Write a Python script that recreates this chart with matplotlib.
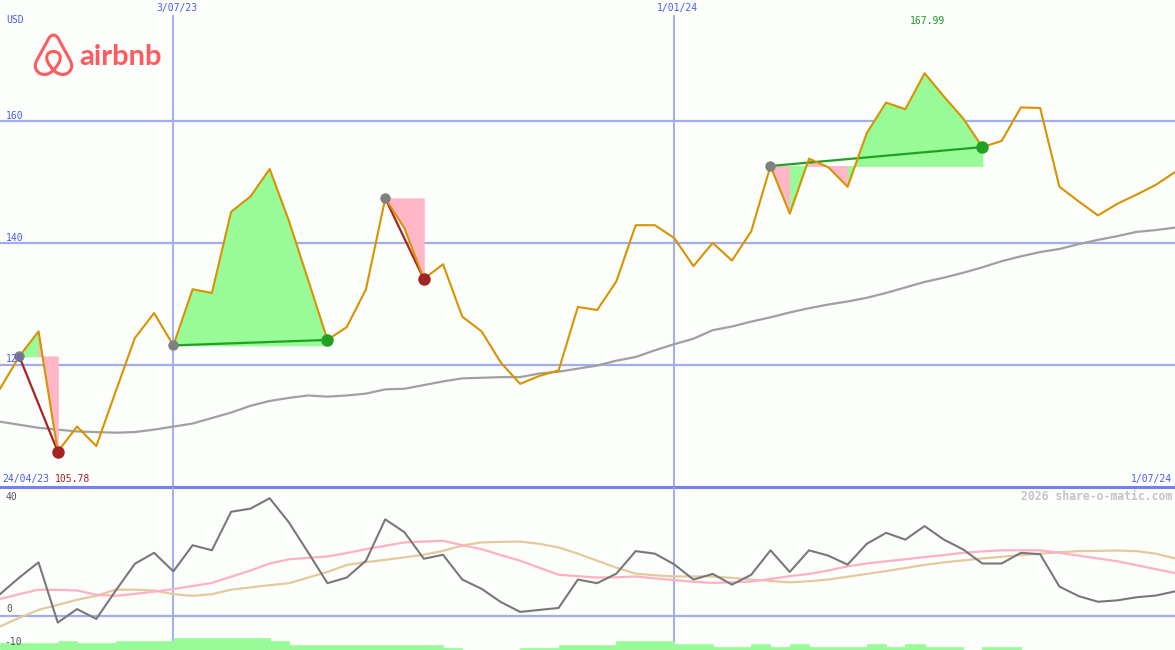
import matplotlib
matplotlib.use("Agg")
import matplotlib.pyplot as plt
from matplotlib.path import Path
from matplotlib.patches import PathPatch
import numpy as np
import pandas as pd

# weekly closes (USD)
dates = pd.date_range("2023-05-01", periods=62, freq="7D")
price = [116.1, 121.4, 125.5, 105.8, 109.9, 106.7, 115.6, 124.4, 128.5, 123.2,
         132.4, 131.8, 145.1, 147.6, 152.1, 143.6, 133.9, 124.1, 126.2, 132.4,
         147.3, 142.4, 134.1, 136.5, 127.9, 125.5, 120.4, 116.9, 118.2, 119.1,
         129.5, 129.0, 133.7, 142.9, 142.9, 140.8, 136.2, 140.0, 137.1, 141.9,
         152.6, 144.8, 153.8, 152.4, 149.2, 158.0, 163.0, 161.9, 167.8, 164.0,
         160.4, 155.7, 156.7, 162.2, 162.1, 149.2, 146.8, 144.5, 146.4, 147.9,
         149.5, 151.6]
ma = [110.7, 110.2, 109.7, 109.4, 109.1, 109.0, 108.9, 109.0, 109.4, 109.9,
      110.4, 111.3, 112.2, 113.3, 114.1, 114.6, 115.0, 114.8, 115.0, 115.3,
      116.0, 116.1, 116.7, 117.3, 117.8, 117.9, 118.0, 118.0, 118.6, 118.9,
      119.4, 119.9, 120.7, 121.3, 122.4, 123.4, 124.3, 125.7, 126.3, 127.1,
      127.8, 128.6, 129.3, 129.9, 130.4, 131.0, 131.8, 132.7, 133.6, 134.3,
      135.1, 136.0, 137.0, 137.8, 138.5, 139.0, 139.8, 140.5, 141.1, 141.8,
      142.1, 142.5]

# lower panel
osc = [7.6, 13.5, 18.9, -2.5, 2.3, -1.2, 8.8, 18.4, 22.3, 15.7,
       25.0, 23.2, 36.9, 38.0, 41.7, 33.1, 22.4, 11.5, 13.5, 19.5,
       34.2, 29.6, 20.2, 21.6, 12.8, 9.5, 4.8, 1.3, 2.0, 2.7,
       12.8, 11.5, 14.9, 22.9, 22.0, 18.2, 12.8, 14.8, 11.0, 14.5,
       23.2, 15.5, 23.2, 21.3, 18.1, 25.5, 29.4, 27.0, 31.8, 27.0,
       23.5, 18.5, 18.5, 22.3, 21.8, 10.3, 6.9, 4.9, 5.4, 6.5,
       7.1, 8.6]
osc_fast = [5.9, 7.6, 9.2, 9.1, 8.9, 7.4, 7.0, 7.7, 8.5, 9.4,
            10.5, 11.6, 13.8, 16.0, 18.5, 20.0, 20.5, 21.0, 22.2, 23.6,
            24.8, 26.0, 26.3, 26.6, 25.0, 23.6, 21.5, 19.5, 17.0, 14.5,
            14.0, 13.5, 13.6, 13.9, 13.2, 12.6, 12.0, 11.6, 11.8, 12.1,
            13.0, 14.0, 14.8, 16.0, 17.5, 18.5, 19.3, 20.0, 20.8, 21.5,
            22.3, 22.8, 23.2, 23.2, 23.2, 22.3, 21.3, 20.3, 19.3, 17.9,
            16.5, 15.1]
osc_slow = [-3.9, -0.8, 2.0, 3.8, 5.6, 7.0, 9.2, 9.2, 8.9, 7.6,
            7.0, 7.6, 9.2, 10.0, 10.8, 11.5, 13.5, 15.5, 18.0, 19.0,
            19.8, 20.7, 21.6, 23.0, 24.9, 26.0, 26.2, 26.3, 25.5, 24.2,
            22.0, 19.5, 17.0, 14.9, 14.3, 13.9, 13.9, 13.9, 13.4, 12.8,
            12.3, 11.8, 12.2, 12.8, 13.8, 14.8, 15.8, 16.9, 18.0, 18.9,
            19.6, 20.3, 20.9, 21.5, 22.0, 22.5, 22.9, 23.0, 23.1, 22.9,
            22.0, 20.3]
n = np.nan
bar_top = [-9.9, -9.9, -9.9, -8.9, -9.9, -9.9, -8.9, -8.9, -8.9, -7.9,
           -7.9, -7.9, -7.9, -8.0, -8.9, -10.3, -10.3, -10.3, -10.3, -10.3,
           -10.3, -10.3, -10.3, -11.4, n, n, n, -11.4, -11.4, -10.3,
           -10.3, -10.3, -9.2, -9.2, -9.2, -10.1, -10.1, -11.1, -11.1, -10.1,
           -11.1, -10.1, -11.1, -11.1, -11.1, -10.1, -11.1, -10.1, -11.1, -11.1,
           n, -11.1, -11.1, n, n, n, n, n, n, n, n]

# (entry week, exit week)
trades = [(1, 3), (9, 17), (20, 22), (40, 51)]
vline_dates = [pd.Timestamp("2023-07-03"), pd.Timestamp("2024-01-01")]
vline_labels = ["3/07/23", "1/01/24"]
price_ticks = [120, 140, 160]

W, H = 1175, 650
BG = "#FCFEFC"
GRID = "#A4ACF0"
SEP = "#7480EE"
BLUE = "#4A5AF0"
ORANGE = "#DA9200"
GREEN_FILL = "#98FB98"
PINK_FILL = "#FFB6C6"
WIN = "#22A022"
LOSS = "#A42424"
MONO = "DejaVu Sans Mono"


def fx(x):
    return x / W


def fy(y):
    return 1 - y / H


fig = plt.figure(figsize=(11.75, 6.5), dpi=100, facecolor=BG)
ax = fig.add_axes([0, 163 / H, 1, 487 / H])
ax2 = fig.add_axes([0, 0, 1, 163 / H])
for a in (ax, ax2):
    a.set_axis_off()
    a.set_xlim(dates[0], dates[-1])
ax.set_ylim(100, 179.8)
ax2.set_ylim(-12.25, 45.7)

# grid
for v in price_ticks:
    ax.axhline(v, color=GRID, lw=1.6, zorder=1)
for d in vline_dates:
    ax.axvline(d, ymax=0.967, color=GRID, lw=1.4, zorder=1)
    ax2.axvline(d, color=GRID, lw=1.4, zorder=1)
ax2.axhline(0, color=GRID, lw=1.6, zorder=1)
ax.axhline(100, color=SEP, lw=2.2, clip_on=False, zorder=6)

ax.plot(dates, ma, color="#A0A0A0", lw=1.6, zorder=2)

# trades
for a_i, b_i in trades:
    entry = price[a_i]
    for i in range(a_i, b_i):
        c = GREEN_FILL if price[i + 1] >= entry else PINK_FILL
        ax.fill_between(dates[i:i + 2], price[i:i + 2], entry, facecolor=c,
                        edgecolor=c, lw=0.6, zorder=2.5)
    col = WIN if price[b_i] > entry else LOSS
    ax.plot([dates[a_i], dates[b_i]], [entry, price[b_i]], color=col,
            lw=1.6, zorder=3)

ax.plot(dates, price, color=ORANGE, lw=1.5, zorder=4)

for a_i, b_i in trades:
    col = WIN if price[b_i] > price[a_i] else LOSS
    ax.plot(dates[a_i], price[a_i], "o", color="#808080", ms=7.5, mew=0, zorder=5)
    ax.plot(dates[b_i], price[b_i], "o", color=col, ms=9, mew=0, zorder=5)

# lower panel
ax2.bar(dates[:-1], np.array(bar_top) + 12.25, bottom=-12.25,
        width=pd.Timedelta(days=7), align="edge", color=GREEN_FILL,
        edgecolor=GREEN_FILL, lw=0.5, zorder=2)
ax2.plot(dates, osc_slow, color="#E2CA9C", lw=1.6, zorder=3)
ax2.plot(dates, osc_fast, color="#FFB0C4", lw=1.6, zorder=3)
ax2.plot(dates, osc, color="#787878", lw=1.5, zorder=4)

# labels
fs = 7
fig.text(fx(6), fy(20), "USD", color=BLUE, fontsize=fs, family=MONO, va="center")
for d, lab, xp in zip(vline_dates, vline_labels, [177, 677]):
    fig.text(fx(xp), fy(8), lab, color=BLUE, fontsize=fs, family=MONO,
             ha="center", va="center")
for v, yp in zip(price_ticks, [359, 238, 116]):
    fig.text(fx(6), fy(yp), str(v), color=BLUE, fontsize=fs, family=MONO,
             va="center", zorder=1)
fig.text(fx(927), fy(21), "167.99", color="#229922", fontsize=fs, family=MONO,
         ha="center", va="center")
fig.text(fx(2), fy(479), "24/04/23", color=BLUE, fontsize=fs, family=MONO, va="center")
fig.text(fx(55), fy(479), "105.78", color="#A52222", fontsize=fs, family=MONO, va="center")
fig.text(fx(1172), fy(479), "1/07/24", color=BLUE, fontsize=fs, family=MONO,
         ha="right", va="center")
fig.text(fx(1172), fy(496), "2026 share-o-matic.com", color="#C4C4C4", fontsize=8.3,
         family=MONO, weight="bold", ha="right", va="center")
for lab, yp, xp in [("40", 497, 6), ("0", 609, 6), ("-10", 642, 4)]:
    fig.text(fx(xp), fy(yp), lab, color="#555555", fontsize=fs, family=MONO, va="center")

# airbnb logo
lax = fig.add_axes([fx(30), fy(80), 50 / W, 50 / H])
lax.set_xlim(30, 80)
lax.set_ylim(80, 30)
lax.axis("off")
M, C, L = Path.MOVETO, Path.CURVE4, Path.LINETO
verts = [(53.5, 70),
         (49, 75), (42, 76), (38, 72),
         (34, 68), (35, 64), (37, 60),
         (49, 38),
         (51.5, 34), (55.5, 34), (58, 38),
         (70, 60),
         (72, 64), (73, 68), (69, 72),
         (65, 76), (58, 75), (53.5, 70),
         (48, 64), (46, 60), (47, 56),
         (48, 50), (59, 50), (60, 56),
         (61, 60), (59, 64), (53.5, 70)]
codes = [M, C, C, C, C, C, C, L, C, C, C, L, C, C, C, C, C, C,
         C, C, C, C, C, C, C, C, C]
lax.add_patch(PathPatch(Path(verts, codes), fill=False, ec="#FF5A5F", lw=2.2,
                        capstyle="round", joinstyle="round"))
fig.text(fx(79), fy(65), "airbnb", color="#FF5A5F", fontsize=21, family="Lato",
         weight="bold", va="baseline")

fig.savefig("out.png", dpi=100, facecolor=BG)
